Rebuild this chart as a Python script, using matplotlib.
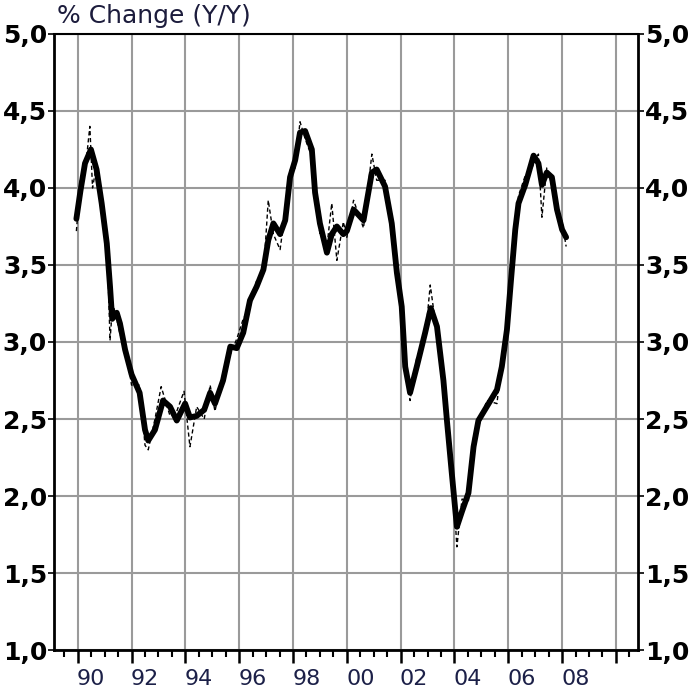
import numpy as np
import matplotlib
matplotlib.use("Agg")
import matplotlib.pyplot as plt
from matplotlib.transforms import ScaledTranslation

# smoothed series (thick line)
years = [1989.95, 1990.1, 1990.27, 1990.49, 1990.7, 1990.89, 1991.08, 1991.2, 1991.28, 1991.45,
         1991.57, 1991.76, 1992.0, 1992.3, 1992.5, 1992.62, 1992.87, 1993.17, 1993.43, 1993.68,
         1993.99, 1994.17, 1994.42, 1994.7, 1994.92, 1995.1, 1995.4, 1995.67, 1995.91, 1996.15,
         1996.4, 1996.65, 1996.9, 1997.08, 1997.27, 1997.52, 1997.71, 1997.89, 1998.08, 1998.26,
         1998.45, 1998.7, 1998.82, 1999.0, 1999.26, 1999.44, 1999.63, 1999.87, 2000.0, 2000.25,
         2000.62, 2000.93, 2001.11, 2001.42, 2001.67, 2001.86, 2002.04, 2002.17, 2002.35, 2002.6,
         2002.91, 2003.12, 2003.35, 2003.59, 2003.72, 2003.9, 2004.09, 2004.28, 2004.52, 2004.71,
         2004.89, 2005.2, 2005.58, 2005.76, 2005.95, 2006.1, 2006.26, 2006.38, 2006.63, 2006.94,
         2007.12, 2007.25, 2007.43, 2007.62, 2007.81, 2008.0, 2008.15]
smooth = [3.80, 3.98, 4.16, 4.25, 4.12, 3.90, 3.64, 3.36, 3.15, 3.19,
          3.12, 2.95, 2.79, 2.67, 2.43, 2.36, 2.43, 2.62, 2.58, 2.49,
          2.60, 2.51, 2.52, 2.56, 2.67, 2.60, 2.75, 2.97, 2.96, 3.06,
          3.27, 3.36, 3.47, 3.66, 3.77, 3.70, 3.79, 4.07, 4.18, 4.36,
          4.37, 4.25, 3.97, 3.77, 3.58, 3.70, 3.75, 3.70, 3.72, 3.86,
          3.79, 4.10, 4.12, 4.01, 3.77, 3.45, 3.23, 2.84, 2.67, 2.84,
          3.06, 3.22, 3.10, 2.75, 2.49, 2.15, 1.80, 1.90, 2.02, 2.32,
          2.49, 2.58, 2.69, 2.84, 3.08, 3.40, 3.73, 3.90, 4.02, 4.21,
          4.16, 4.02, 4.10, 4.07, 3.86, 3.73, 3.68]

# raw series (thin dashed line)
years_raw = [1989.95, 1990.1, 1990.27, 1990.45, 1990.55, 1990.7, 1990.89, 1991.08, 1991.2, 1991.3,
             1991.45, 1991.57, 1991.76, 1992.0, 1992.3, 1992.5, 1992.62, 1992.87, 1993.1, 1993.43,
             1993.68, 1993.95, 1994.17, 1994.42, 1994.7, 1994.92, 1995.1, 1995.4, 1995.67, 1995.91,
             1996.15, 1996.4, 1996.65, 1996.9, 1997.08, 1997.27, 1997.52, 1997.71, 1997.89, 1998.08,
             1998.26, 1998.45, 1998.7, 1998.82, 1999.0, 1999.26, 1999.44, 1999.63, 1999.87, 2000.0,
             2000.25, 2000.62, 2000.93, 2001.11, 2001.42, 2001.67, 2001.86, 2002.04, 2002.17, 2002.35,
             2002.6, 2002.91, 2003.1, 2003.35, 2003.59, 2003.72, 2003.9, 2004.09, 2004.28, 2004.52,
             2004.71, 2004.89, 2005.2, 2005.58, 2005.76, 2005.95, 2006.1, 2006.26, 2006.38, 2006.63,
             2006.94, 2007.12, 2007.25, 2007.43, 2007.62, 2007.81, 2008.0, 2008.15]
raw = [3.72, 4.05, 4.10, 4.40, 4.00, 4.15, 3.85, 3.70, 3.01, 3.25,
       3.15, 3.05, 2.98, 2.72, 2.72, 2.33, 2.30, 2.50, 2.71, 2.52,
       2.55, 2.68, 2.32, 2.58, 2.50, 2.72, 2.55, 2.80, 2.92, 3.02,
       3.15, 3.22, 3.40, 3.44, 3.92, 3.70, 3.60, 3.85, 4.12, 4.13,
       4.43, 4.32, 4.20, 4.02, 3.70, 3.62, 3.90, 3.53, 3.78, 3.68,
       3.92, 3.74, 4.22, 4.05, 4.05, 3.72, 3.50, 3.18, 2.90, 2.62,
       2.90, 3.02, 3.37, 3.05, 2.80, 2.45, 2.20, 1.67, 1.98, 1.97,
       2.38, 2.45, 2.62, 2.60, 2.90, 3.02, 3.45, 3.68, 3.95, 4.08,
       4.15, 4.22, 3.81, 4.13, 4.02, 3.88, 3.78, 3.62]

tick_years = list(range(1990, 2011, 2))
tick_labels = ["90", "92", "94", "96", "98", "00", "02", "04", "06", "08", ""]
y_ticks = [1.0, 1.5, 2.0, 2.5, 3.0, 3.5, 4.0, 4.5, 5.0]
y_labels = ["1,0", "1,5", "2,0", "2,5", "3,0", "3,5", "4,0", "4,5", "5,0"]

fig = plt.figure(figsize=(6.93, 6.93), dpi=100)
ax = fig.add_axes([0.078, 0.062, 0.843, 0.889])

ax.plot(years_raw, raw, color="black", lw=1.0, dashes=(3, 2), zorder=3)
ax.plot(years, smooth, color="black", lw=4.2, solid_capstyle="round",
        solid_joinstyle="round", zorder=4)

ax.set_xlim(1989.12, 2010.83)
ax.set_ylim(1.0, 5.0)

ax.set_xticks(tick_years)
ax.set_xticklabels(tick_labels, fontsize=16, color="#1c2048")
ax.set_xticks(np.arange(1989.5, 2010.6, 0.5), minor=True)
ax.tick_params(axis="x", which="major", length=9, width=1.8, direction="out", pad=5)
ax.tick_params(axis="x", which="minor", length=5, width=1.5, direction="out")
offset = ScaledTranslation(13.5 / 100, 0, fig.dpi_scale_trans)
for lab in ax.get_xticklabels():
    lab.set_transform(lab.get_transform() + offset)

ax.set_yticks(y_ticks)
ax.set_yticklabels(y_labels, fontsize=18, fontweight="bold")
ax.tick_params(axis="y", which="both", length=4, width=1.2, direction="out",
               left=True, right=True, labelleft=True, labelright=True, pad=1)

ax.grid(True, which="major", color="#9a9a9a", lw=1.5)
ax.set_axisbelow(True)

for side in ["left", "bottom", "right"]:
    ax.spines[side].set_linewidth(2.0)
ax.spines["top"].set_linewidth(1.5)

fig.text(57 / 693, 1 - 23 / 693, "% Change (Y/Y)", fontsize=18, color="#1c1c3c",
         ha="left", va="baseline")

fig.savefig("out.png", dpi=100)
